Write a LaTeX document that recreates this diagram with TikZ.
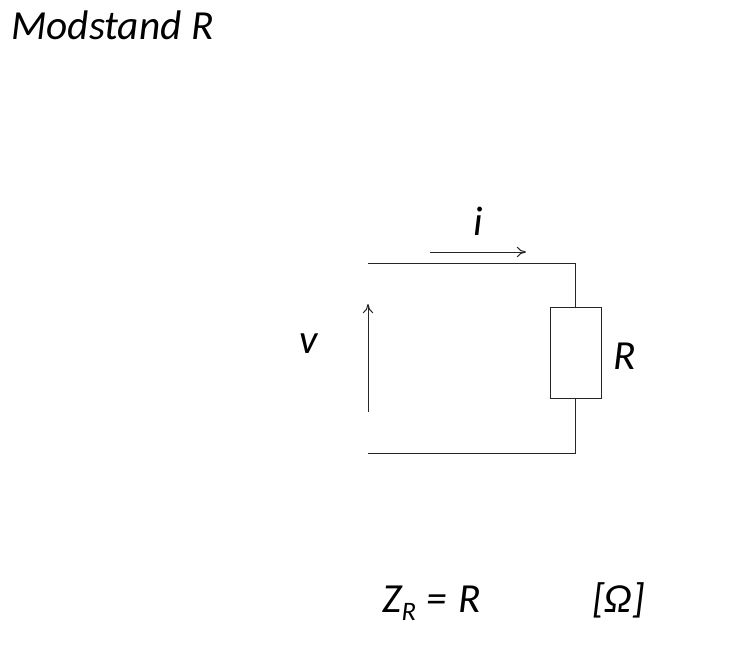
\documentclass[tikz,border=0pt]{standalone}
\usepackage{fontspec}
\setmainfont{Carlito}
\usetikzlibrary{arrows.meta}
\tikzset{
  wire/.style={draw=black!85,line width=0.75pt},
  flow/.style={wire,-{To[length=7pt,width=8pt]}},
  lbl/.style={inner sep=0pt,font=\itshape\fontsize{31}{36}\selectfont,text=black}
}
\begin{document}
\begin{tikzpicture}[x=0.75pt,y=-0.75pt]
\useasboundingbox (0,0) rectangle (729,658);
\node[lbl,anchor=base west] (title) at (11,39) {Modstand R};
\node[draw=black!85,line width=0.75pt,minimum width=38.25pt,minimum height=68.25pt,inner sep=0pt] (res) at (575.75,353) {};
\coordinate (tl) at (368,263);
\coordinate (tr) at (res.north |- tl);
\coordinate (bl) at (368,453);
\coordinate (br) at (res.south |- bl);
\draw[wire] (tl) -- (tr) -- (res.north);
\draw[wire] (res.south) -- (br) -- (bl);
\coordinate (is) at (430,252);
\coordinate (ie) at (526,252);
\draw[flow] (is) -- (ie);
\coordinate (vs) at (368,412);
\coordinate (ve) at (368,304);
\draw[flow] (vs) -- (ve);
\node[lbl,anchor=base] (i) at (478,235) {i};
\node[lbl,anchor=base] (v) at (309,353) {v};
\node[lbl,anchor=base] (r) at (625,369) {R};
\node[lbl,anchor=base west] (z) at (382,612) {Z\raisebox{-6pt}{\fontsize{20}{24}\selectfont R}\kern1pt{} =\kern1pt{} R};
\node[lbl,anchor=base west] (o) at (592,612) {[Ω]};
\end{tikzpicture}
\end{document}
